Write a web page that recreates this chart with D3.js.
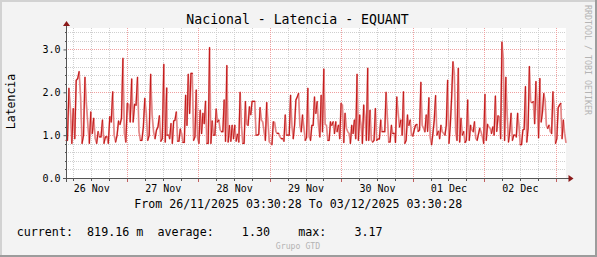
<!DOCTYPE html>
<html>
<head>
<meta charset="utf-8">
<script src="https://cdn.jsdelivr.net/npm/d3@7"></script>
<style>
  body { margin: 0; background: #f3f3f3; }
  text { font-family: "DejaVu Sans Mono", monospace; }
</style>
</head>
<body>
<div id="chart"></div>
<script>
// data, one array per stretch of the week
const valuesA = [0.88,0.88,2.09,1.62,0.81,1.62,0.92,2.28,2.32,2.48,1.89,0.81,1.00,2.35,1.72,1.23,0.81,1.54,1.04,1.39,0.92,0.81,1.08,0.96,0.96,1.35,0.81,0.96,0.96,0.81,1.43,1.31,2.01,1.00,0.84,1.00,1.33,1.25,1.39,2.79,1.04,0.84,1.74,1.72,1.31,2.31,1.31,1.72,1.70,2.35,1.08,0.88,0.88,1.19,1.86,1.51,0.88,1.00,2.42,1.48,1.08,0.92,1.12,1.19,1.45,0.86,0.92,2.65,0.84,2.10];
const valuesB = [1.00,1.00,0.92,1.27,0.81,1.33,1.35,1.54,0.86,0.86,1.14,1.04,0.83,0.83,1.93,1.23,2.42,1.51,2.44,2.44,0.88,0.96,2.05,0.94,0.81,1.58,1.04,1.51,1.27,1.79,0.81,0.81,3.04,0.81,1.33,1.00,1.00,1.61,1.31,1.35,1.12,1.08,1.08,1.82,0.86,2.62,0.84,1.22,0.86,1.23,0.92,1.23,0.86,1.02,0.84,2.00,1.23,0.81,0.81,1.78,1.25,1.23,1.66,1.48,1.79,1.79,1.79,1.00,1.00,1.02,1.64,1.35,1.31,1.08,0.88,1.76];
const valuesC = [0.84,0.81,0.78,1.31,1.30,1.08,1.04,1.04,0.96,0.92,0.92,0.86,1.47,1.00,1.00,1.00,1.93,1.23,0.92,1.23,1.82,1.89,1.97,1.23,1.08,1.47,1.19,0.88,0.94,2.09,0.96,0.88,1.23,1.23,1.89,1.51,1.78,1.23,0.96,1.93,1.08,2.54,1.25,1.23,0.88,0.88,1.31,1.23,1.31,1.04,1.31,1.08,1.23,0.92,1.74,1.70,0.83,1.51,1.16,1.08,1.04,0.81,1.23,1.04,1.35,0.92,2.42,0.88,1.47,1.23,0.81,1.70,1.39,0.88,2.56];
const valuesD = [0.88,1.58,0.88,0.84,0.88,1.62,0.88,0.91,0.91,1.35,1.08,1.08,1.08,2.00,1.39,0.84,0.84,1.23,1.04,1.04,0.83,1.89,1.53,1.19,1.35,1.00,2.01,0.81,0.88,1.47,1.23,1.35,1.00,0.98,1.12,1.23,1.25,1.09,1.12,2.23,1.23,1.16,1.08,1.47,1.09,1.87,0.94,0.78,1.04,1.35,1.92,1.00,1.09,0.92,1.23,1.08,1.04,1.00,1.23,2.28,0.81,1.23,1.89,2.71,2.44,1.08,0.88,2.56,0.84,1.39,1.00,1.08,0.83,0.88,1.82];
const valuesE = [0.88,1.23,1.12,1.08,1.31,0.92,0.88,1.02,1.16,1.08,0.96,0.81,1.95,0.88,1.25,1.19,1.16,1.04,1.19,1.00,1.91,1.09,1.45,1.43,0.92,3.17,2.79,0.88,2.35,1.47,0.84,1.09,1.51,0.88,1.00,1.00,0.96,1.51,1.23,0.78,0.78,1.12,1.14,2.13,0.84,1.16,2.60,1.78,1.76,1.78,1.27,2.25,1.74,0.94,2.32,1.31,1.54,1.97,1.82,1.23,1.16,1.23,1.08,1.04,2.01,1.62,0.81,0.92,1.64,1.70,1.74,0.92,1.35,1.04,0.82];
// hours after the start that each stretch covers
const chunkHours = [[0, 33.84], [33.94, 67.44], [68.31, 101.37], [101.71, 134.97], [135.5, 168]];

const yTicks = [0, 1, 2, 3];
const legendLabels = ["current:", "average:", "max:"];
const legendValues = [819.16, 1.30, 3.17];
const legendUnits = ["m", " ", " "];

const start = Date.UTC(2025, 10, 26, 3, 30, 28);
const HOUR = 3600e3;
const end = start + 168 * HOUR;

const svgWidth = 597;
const svgHeight = 257;
const margin = { top: 28, left: 66 };
const width = 500;
const height = 150;

const points = [];
[valuesA, valuesB, valuesC, valuesD, valuesE].forEach((vals, i) => {
  const h = d3.scaleLinear().domain([0, vals.length - 1]).range(chunkHours[i]);
  vals.forEach((v, j) => points.push({ t: new Date(start + h(j) * HOUR), v: v }));
});

const svg = d3.select("#chart")
  .append("svg")
  .attr("width", svgWidth)
  .attr("height", svgHeight);

// background + shaded frame
svg.append("rect").attr("width", svgWidth).attr("height", svgHeight).attr("fill", "#f3f3f3");
svg.append("path").attr("d", `M0,1H${svgWidth}M1,0V${svgHeight}`).attr("stroke", "#d2d2d2").attr("stroke-width", 2);
svg.append("path").attr("d", `M0,${svgHeight - 1}H${svgWidth}M${svgWidth - 1},0V${svgHeight}`).attr("stroke", "#9c9c9c").attr("stroke-width", 2);

const x = d3.scaleUtc().domain([start, end]).range([margin.left, margin.left + width]);
const y = d3.scaleLinear().domain([0, 3.5]).range([margin.top + height, margin.top]);

svg.append("rect")
  .attr("x", margin.left).attr("y", margin.top)
  .attr("width", width).attr("height", height)
  .attr("fill", "#ffffff");

// grid
const grid = svg.append("g").attr("shape-rendering", "crispEdges");
const minorY = d3.range(1, 18).map(i => i * 0.2).filter(v => Math.abs(v - Math.round(v)) > 1e-6);
const majorY = [1, 2, 3];
const minorX = d3.utcHour.every(6).range(new Date(start), new Date(end)).filter(d => d.getUTCHours() !== 0);
const majorX = d3.utcDay.range(new Date(start), new Date(end));

grid.selectAll(".minorY").data(minorY).enter().append("line")
  .attr("x1", margin.left).attr("x2", margin.left + width)
  .attr("y1", d => Math.round(y(d)) + 0.5).attr("y2", d => Math.round(y(d)) + 0.5)
  .attr("stroke", "#cfcfcf").attr("stroke-dasharray", "1,1");
grid.selectAll(".minorX").data(minorX).enter().append("line")
  .attr("x1", d => Math.round(x(d)) + 0.5).attr("x2", d => Math.round(x(d)) + 0.5)
  .attr("y1", margin.top).attr("y2", margin.top + height)
  .attr("stroke", "#cfcfcf").attr("stroke-dasharray", "1,1");
grid.selectAll(".majorY").data(majorY).enter().append("line")
  .attr("x1", margin.left).attr("x2", margin.left + width)
  .attr("y1", d => Math.round(y(d)) + 0.5).attr("y2", d => Math.round(y(d)) + 0.5)
  .attr("stroke", "#f0a0a0").attr("stroke-dasharray", "1,1");
grid.selectAll(".majorX").data(majorX).enter().append("line")
  .attr("x1", d => Math.round(x(d)) + 0.5).attr("x2", d => Math.round(x(d)) + 0.5)
  .attr("y1", margin.top).attr("y2", margin.top + height)
  .attr("stroke", "#f0a0a0").attr("stroke-dasharray", "1,1");

// the series: pale base line, falling steps light, rising steps dark
const line = d3.line().x(d => x(d.t)).y(d => y(d.v));
svg.append("path").datum(points)
  .attr("d", line).attr("fill", "none")
  .attr("stroke", "#eba6a6").attr("stroke-width", 1.8).attr("stroke-linejoin", "round");
const pairs = d3.pairs(points);
svg.append("path")
  .attr("d", pairs.filter(p => p[1].v < p[0].v).map(p => line(p)).join(""))
  .attr("fill", "none").attr("stroke", "#e07878").attr("stroke-width", 0.9);
svg.append("path")
  .attr("d", pairs.filter(p => p[1].v >= p[0].v).map(p => line(p)).join(""))
  .attr("fill", "none").attr("stroke", "#c41c1c").attr("stroke-width", 1.2).attr("stroke-linecap", "round");

// axes
const x0 = margin.left + 0.5;
const y0 = margin.top + height + 0.5;
const axisCol = "#555555";
const arrowCol = "#8b1a1a";
const ax = svg.append("g").attr("shape-rendering", "crispEdges");
ax.append("line").attr("x1", x0).attr("x2", x0).attr("y1", y0 + 3).attr("y2", margin.top - 4).attr("stroke", axisCol);
ax.append("line").attr("x1", x0 - 4).attr("x2", margin.left + width + 3).attr("y1", y0).attr("y2", y0).attr("stroke", axisCol);
ax.selectAll(".ty").data(minorY).enter().append("line")
  .attr("x1", x0 - 2).attr("x2", x0).attr("y1", d => Math.round(y(d)) + 0.5).attr("y2", d => Math.round(y(d)) + 0.5)
  .attr("stroke", axisCol);
ax.selectAll(".tx").data(minorX).enter().append("line")
  .attr("x1", d => Math.round(x(d)) + 0.5).attr("x2", d => Math.round(x(d)) + 0.5).attr("y1", y0).attr("y2", y0 + 2)
  .attr("stroke", axisCol);
ax.selectAll(".tX").data(majorX).enter().append("line")
  .attr("x1", d => Math.round(x(d)) + 0.5).attr("x2", d => Math.round(x(d)) + 0.5).attr("y1", y0).attr("y2", y0 + 3)
  .attr("stroke", "#c06060");
svg.append("path")
  .attr("d", `M${x0},${margin.top - 7}l-3.5,5h7z`).attr("fill", arrowCol);
svg.append("path")
  .attr("d", `M${margin.left + width + 7.5},${y0}l-5,-3.5v7z`).attr("fill", arrowCol);

const leftAxis = d3.axisLeft(y).tickValues(yTicks).tickSize(3).tickPadding(3).tickFormat(d3.format(".1f"));
const gy = svg.append("g").attr("transform", `translate(${x0},0)`).call(leftAxis);
gy.select(".domain").remove();
gy.selectAll("line").attr("stroke", axisCol);
gy.selectAll("text").attr("font-family", "DejaVu Sans Mono").attr("font-size", 10).attr("fill", "#000");

const labelDays = d3.utcDay.range(new Date(start - 24 * HOUR), new Date(end)).map(d => d3.utcHour.offset(d, 12))
  .filter(d => d >= start && d <= end);
const bottomAxis = d3.axisBottom(x).tickValues(labelDays).tickSize(0).tickPadding(6).tickFormat(d3.utcFormat("%d %b"));
const gx = svg.append("g").attr("transform", `translate(0,${y0})`).call(bottomAxis);
gx.select(".domain").remove();
gx.selectAll("text").attr("font-family", "DejaVu Sans Mono").attr("font-size", 10).attr("fill", "#000");

// texts
svg.append("text")
  .attr("x", 297.5).attr("y", 24)
  .attr("text-anchor", "middle").attr("font-size", 13.2).attr("fill", "#000")
  .text("Nacional - Latencia - EQUANT");

svg.append("text")
  .attr("transform", "translate(15,101.5) rotate(-90)")
  .attr("text-anchor", "middle").attr("font-size", 11.5).attr("fill", "#000")
  .text("Latencia");

const fmtDate = d3.utcFormat("%d/%m/%Y %H:%M:%S");
svg.append("text")
  .attr("x", 298.3).attr("y", 207.5)
  .attr("text-anchor", "middle").attr("font-size", 11.6).attr("fill", "#000")
  .text(`From ${fmtDate(new Date(start))} To ${fmtDate(new Date(end))}`);

const fmt = d3.format(">8.2f");
const legendText = legendLabels.map((l, i) => `${l}${fmt(legendValues[i])} ${legendUnits[i]}`).join("  ");
svg.append("text")
  .attr("x", 16.7).attr("y", 236)
  .attr("font-size", 11.7).attr("fill", "#000")
  .style("white-space", "pre")
  .text(legendText);

svg.append("text")
  .attr("x", 298).attr("y", 249)
  .attr("text-anchor", "middle").attr("font-size", 8.2).attr("fill", "#b4b4b4")
  .text("Grupo GTD");

svg.append("text")
  .attr("transform", "translate(585,5) rotate(90)")
  .attr("font-size", 8.3).attr("fill", "#b4b4b4")
  .text("RRDTOOL / TOBI OETIKER");
</script>
</body>
</html>
